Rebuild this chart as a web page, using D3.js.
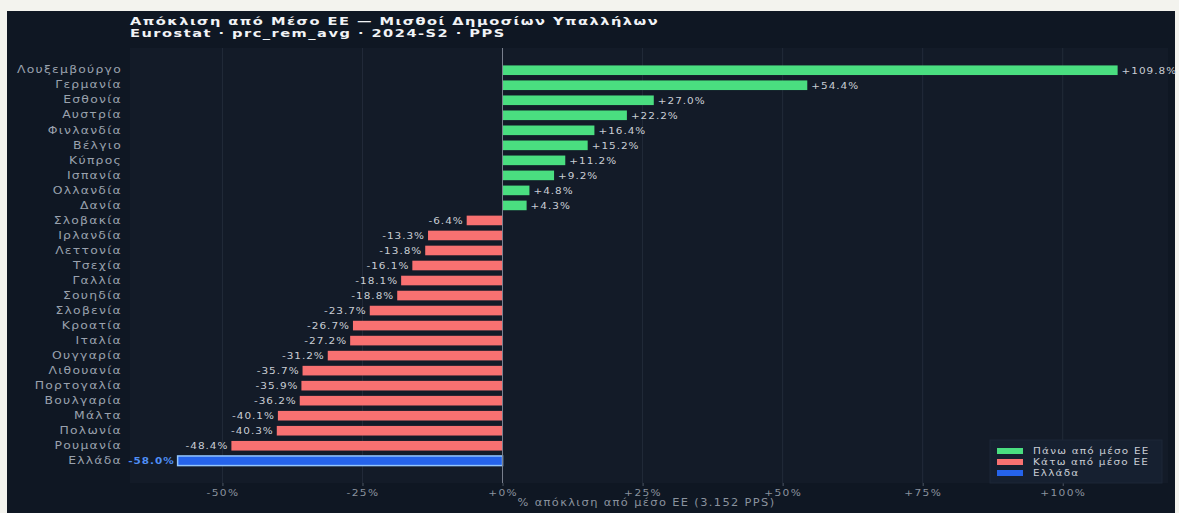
<!DOCTYPE html>
<html>
<head>
<meta charset="utf-8">
<script src="https://cdn.jsdelivr.net/npm/d3@7"></script>
<style>
  html, body { margin: 0; padding: 0; background: #f3f3ee; }
  svg { display: block; }
  text { font-family: "DejaVu Sans", Verdana, sans-serif; }
</style>
</head>
<body>
<div id="chart"></div>
<script>
// ---- data ----
const countries = ["Λουξεμβούργο","Γερμανία","Εσθονία","Αυστρία","Φινλανδία","Βέλγιο","Κύπρος","Ισπανία","Ολλανδία","Δανία","Σλοβακία","Ιρλανδία","Λεττονία","Τσεχία","Γαλλία","Σουηδία","Σλοβενία","Κροατία","Ιταλία","Ουγγαρία","Λιθουανία","Πορτογαλία","Βουλγαρία","Μάλτα","Πολωνία","Ρουμανία","Ελλάδα"];
const deviations = [109.8,54.4,27.0,22.2,16.4,15.2,11.2,9.2,4.8,4.3,-6.4,-13.3,-13.8,-16.1,-18.1,-18.8,-23.7,-26.7,-27.2,-31.2,-35.7,-35.9,-36.2,-40.1,-40.3,-48.4,-58.0];
const highlight = "Ελλάδα";
const xTicks = [-50,-25,0,25,50,75,100];
const legendLabels = ["Πάνω από μέσο ΕΕ","Κάτω από μέσο ΕΕ","Ελλάδα"];
const titleText = "Απόκλιση από Μέσο ΕΕ — Μισθοί Δημοσίων Υπαλλήλων";
const subtitleText = "Eurostat · prc_rem_avg · 2024-S2 · PPS";
const xAxisTitle = "% απόκλιση από μέσο ΕΕ (3.152 PPS)";

const data = countries.map((c, i) => ({ c, v: deviations[i] }));

const W = 1179, H = 513;
const plot = { left: 130, right: 1163, top: 48, bottom: 483 };
const colors = { up: "#4ade80", down: "#f87171", gr: "#2563eb", grStroke: "#93c5fd" };

const svg = d3.select("#chart").append("svg").attr("width", W).attr("height", H);

// horizontally widen text glyphs (reference text is rendered wide)
function stretch(sel, sx) {
  sel.each(function () {
    const t = d3.select(this);
    const tx = +t.attr("x") || 0, ty = +t.attr("y") || 0;
    const prev = t.attr("transform") || "";
    t.attr("x", 0).attr("y", 0).attr("transform", `${prev} translate(${tx},${ty}) scale(${sx},1)`);
  });
}

// panel
svg.append("rect").attr("x", 7).attr("y", 11).attr("width", 1168).attr("height", 502).attr("fill", "#0f1723");
svg.append("rect").attr("x", plot.left).attr("y", plot.top).attr("width", plot.right - plot.left + 5).attr("height", plot.bottom - plot.top).attr("fill", "#131b28");

const x = d3.scaleLinear().domain([-66.5, 117.9]).range([plot.left, plot.right]);
const y = d3.scaleBand().domain(countries).range([plot.top, plot.bottom]).paddingInner(0.36).paddingOuter(1.16);

// grid
svg.append("g").selectAll("line").data(xTicks.filter(t => t !== 0)).join("line")
  .attr("x1", d => x(d)).attr("x2", d => x(d)).attr("y1", plot.top).attr("y2", plot.bottom)
  .attr("stroke", "#222b39").attr("stroke-width", 1);

// title
const tt = svg.append("g");
tt.append("text").attr("x", 130).attr("y", 25).attr("fill", "#f1f3f6").attr("font-size", 11).attr("font-weight", "bold").attr("letter-spacing", 1.1).text(titleText);
tt.append("text").attr("x", 130).attr("y", 37).attr("fill", "#f1f3f6").attr("font-size", 11).attr("font-weight", "bold").attr("letter-spacing", 1.1).text(subtitleText);
stretch(tt.selectAll("text"), 1.33);

// bars
const fillOf = d => d.c === highlight ? colors.gr : (d.v >= 0 ? colors.up : colors.down);
svg.append("g").selectAll("rect").data(data).join("rect")
  .attr("x", d => x(Math.min(0, d.v)))
  .attr("y", d => y(d.c))
  .attr("width", d => Math.abs(x(d.v) - x(0)))
  .attr("height", y.bandwidth())
  .attr("fill", fillOf)
  .attr("stroke", d => d.c === highlight ? colors.grStroke : "none")
  .attr("stroke-width", 1.5);

// zero line
svg.append("line").attr("x1", x(0)).attr("x2", x(0)).attr("y1", plot.top).attr("y2", plot.bottom)
  .attr("stroke", "#7b8290").attr("stroke-width", 1);

// value labels
const fmt = v => (v >= 0 ? "+" : "") + v.toFixed(1) + "%";
const vl = svg.append("g").selectAll("text").data(data).join("text")
  .attr("x", d => d.v >= 0 ? x(d.v) + 4 : x(d.v) - 3)
  .attr("y", d => y(d.c) + y.bandwidth() / 2)
  .attr("dy", "0.36em")
  .attr("text-anchor", d => d.v >= 0 ? "start" : "end")
  .attr("font-size", 9.5)
  .attr("letter-spacing", 0.9)
  .attr("font-weight", d => d.c === highlight ? "bold" : "normal")
  .attr("fill", d => d.c === highlight ? "#4f8ff7" : "#c9cdd4")
  .text(d => fmt(d.v));
stretch(vl, 1.1);

// y axis labels
const yAxis = d3.axisLeft(y).tickSize(0).tickPadding(7);
const gy = svg.append("g").attr("transform", `translate(${plot.left - 1},0)`).call(yAxis);
gy.select(".domain").remove();
gy.selectAll("text").attr("font-family", "DejaVu Sans").attr("font-size", 10).attr("letter-spacing", 1.0).attr("fill", "#9aa2ae");
stretch(gy.selectAll("text"), 1.24);

// x axis
const xAxis = d3.axisBottom(x).tickValues(xTicks).tickSize(3).tickPadding(3).tickFormat(d => (d >= 0 ? "+" : "") + d + "%");
const gx = svg.append("g").attr("transform", `translate(0,${plot.bottom})`).call(xAxis);
gx.select(".domain").remove();
gx.selectAll("line").attr("stroke", "#4b5563");
gx.selectAll("text").attr("font-family", "DejaVu Sans").attr("font-size", 9.5).attr("letter-spacing", 1.2).attr("fill", "#8a929e");
stretch(gx.selectAll("text"), 1.12);

const at = svg.append("text").attr("x", (plot.left + plot.right) / 2).attr("y", 506).attr("text-anchor", "middle")
  .attr("font-size", 10).attr("letter-spacing", 1.2).attr("fill", "#8a929e").text(xAxisTitle);
stretch(at, 1.14);

// legend
const lg = svg.append("g");
lg.append("rect").attr("x", 990).attr("y", 440).attr("width", 172).attr("height", 43).attr("fill", "#162030").attr("stroke", "#1d2736");
const legColors = [colors.up, colors.down, colors.gr];
legendLabels.forEach((t, i) => {
  const cy = 451 + i * 11;
  lg.append("rect").attr("x", 997).attr("y", cy - 3).attr("width", 26).attr("height", 6).attr("fill", legColors[i]);
  const lt = lg.append("text").attr("x", 1033).attr("y", cy).attr("dy", "0.35em").attr("font-size", 9.5).attr("letter-spacing", 1.1).attr("fill", "#c9cdd4").text(t);
  stretch(lt, 1.1);
});
</script>
</body>
</html>
